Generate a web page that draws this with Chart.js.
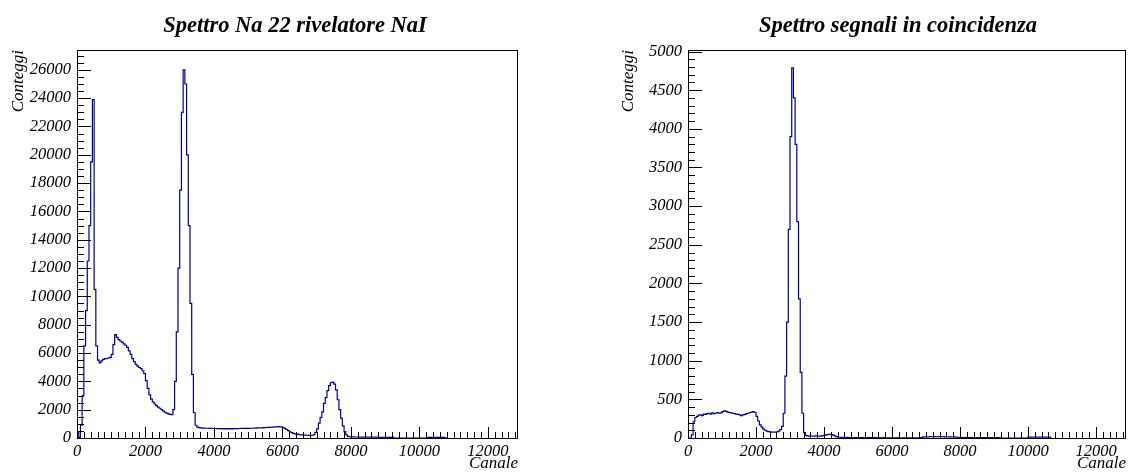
<!DOCTYPE html>
<html>
<head>
<meta charset="utf-8">
<title>Spettri Na 22</title>
<script src="https://cdn.jsdelivr.net/npm/chart.js@4/dist/chart.umd.min.js"></script>
<style>
  html, body { margin: 0; padding: 0; background: #fff; overflow: hidden; }
  canvas { position: absolute; top: 0; }
  #chartA { left: 0; }
  #chartB { left: 564px; }
</style>
</head>
<body>
<canvas id="chartA" width="564" height="474"></canvas>
<canvas id="chartB" width="564" height="474"></canvas>
<script>
// histogram bins are 50 channels wide, starting at channel 0
const binWidth = 50;
const canaleMax = 12880;

// Na-22 spectrum, NaI detector (counts per bin)
const conteggiNaI = [
  450, 40, 900, 3000, 6500, 9000, 12500, 15000, 19500, 23900,        // 0-500
  10500, 6500, 5500, 5300, 5450, 5550, 5600, 5600, 5650, 5700,       // 500-1000
  5900, 6600, 7300, 7100, 6950, 6850, 6750, 6650, 6550, 6400,        // 1000-1500
  6150, 5900, 5600, 5400, 5200, 5080, 4980, 4900, 4750, 4550,        // 1500-2000
  4050, 3500, 3050, 2750, 2550, 2400, 2280, 2180, 2100, 2000,        // 2000-2500
  1900, 1820, 1760, 1710, 1670, 1650, 2000, 4000, 7500, 12000,       // 2500-3000
  17500, 23000, 26000, 25000, 20000, 15000, 9500, 4500, 1800, 900,   // 3000-3500
  770, 730, 710, 700, 700, 690, 690, 680, 680, 670,                  // 3500-4000
  670, 660, 660, 665, 650, 660, 650, 655, 650, 660,                  // 4000-4500
  650, 660, 660, 665, 670, 670, 675, 680, 680, 685,                  // 4500-5000
  680, 690, 690, 700, 700, 710, 710, 720, 720, 730,                  // 5000-5500
  740, 745, 750, 760, 770, 780, 790, 800, 790, 780,                  // 5500-6000
  740, 680, 600, 520, 440, 380, 330, 290, 270, 250,                  // 6000-6500
  230, 220, 210, 200, 195, 190, 190, 195, 230, 400,                  // 6500-7000
  650, 1050, 1450, 1850, 2450, 2850, 3350, 3700, 3900, 3950,         // 7000-7500
  3800, 3400, 2700, 2000, 1400, 850, 450, 220, 120, 90,              // 7500-8000
  80, 75, 70, 70, 70, 65, 65, 65, 60, 60,                            // 8000-8500
  60, 60, 55, 55, 55, 55, 50, 50, 50, 50,                            // 8500-9000
  50, 45, 45, 45, 45, 0, 0, 0, 0, 0,                                 // 9000-9500
  0, 0, 0, 0, 0, 0, 0, 0, 0, 0,                                      // 9500-10000
  0, 0, 0, 0, 50, 50, 50, 50, 50, 50,                                // 10000-10500
  50, 50, 50, 50, 50, 0                                              // 10500-10800
];

// coincidence spectrum (counts per bin)
const conteggiCoinc = [
  0, 0, 40, 210, 265, 280, 295, 300, 290, 310,                       // 0-500
  305, 315, 320, 310, 325, 315, 320, 330, 320, 325,                  // 500-1000
  340, 350, 345, 335, 330, 325, 320, 315, 310, 305,                  // 1000-1500
  300, 290, 300, 305, 315, 320, 330, 335, 340, 330,                  // 1500-2000
  280, 220, 170, 140, 115, 100, 90, 82, 78, 76,                      // 2000-2500
  75, 76, 80, 90, 110, 150, 320, 800, 1500, 2700,                    // 2500-3000
  3900, 4790, 4400, 3800, 2800, 1800, 850, 320, 70, 35,              // 3000-3500
  28, 25, 26, 24, 25, 27, 26, 25, 28, 30,                            // 3500-4000
  35, 40, 45, 48, 45, 38, 28, 18, 12, 10,                            // 4000-4500
  8, 8, 7, 7, 6, 6, 6, 5, 5, 5,                                      // 4500-5000
  5, 4, 4, 5, 4, 4, 4, 4, 3, 4,                                      // 5000-5500
  4, 3, 4, 3, 3, 4, 3, 3, 3, 3,                                      // 5500-6000
  3, 3, 3, 4, 3, 3, 3, 3, 3, 3,                                      // 6000-6500
  3, 3, 3, 3, 3, 3, 4, 5, 14, 15,                                    // 6500-7000
  16, 15, 17, 16, 18, 17, 16, 18, 17, 16,                            // 7000-7500
  17, 15, 16, 14, 15, 13, 14, 12, 10, 6,                             // 7500-8000
  6, 5, 6, 5, 5, 6, 5, 5, 5, 4,                                      // 8000-8500
  5, 4, 4, 5, 4, 4, 4, 4, 4, 4,                                      // 8500-9000
  4, 4, 4, 3, 0, 0, 0, 0, 0, 0,                                      // 9000-9500
  0, 0, 0, 0, 0, 0, 0, 0, 0, 0,                                      // 9500-10000
  12, 12, 12, 12, 12, 12, 12, 12, 12, 12,                            // 10000-10500
  12, 12, 12, 0                                                      // 10500-10700
];

const tickCanale = [0, 2000, 4000, 6000, 8000, 10000, 12000];
const tickNaI = [0, 2000, 4000, 6000, 8000, 10000, 12000, 14000, 16000, 18000, 20000, 22000, 24000, 26000];
const tickCoinc = [0, 500, 1000, 1500, 2000, 2500, 3000, 3500, 4000, 4500, 5000];

const lineBlue = '#000099';
const serif = '"Liberation Serif", "Times New Roman", serif';
const tickFont = { family: serif, style: 'italic', size: 16.5 };
const axisTitleFont = { family: serif, style: 'italic', size: 17 };

// frame box, inward tick marks and the pad title
const rootFrame = {
  id: 'rootFrame',
  afterDatasetsDraw(chart, args, opts) {
    const { ctx, chartArea: a, scales: { x, y } } = chart;
    ctx.save();
    ctx.strokeStyle = '#000';
    ctx.lineWidth = 1;
    ctx.beginPath();
    for (let v = 0; v <= x.max; v += opts.xMinor) {
      const px = Math.round(x.getPixelForValue(v)) + 0.5;
      const len = v % opts.xMajor === 0 ? 11 : 6;
      ctx.moveTo(px, a.bottom);
      ctx.lineTo(px, a.bottom - len);
    }
    for (let v = 0; v <= y.max; v += opts.yMinor) {
      const py = Math.round(y.getPixelForValue(v)) + 0.5;
      const len = v % opts.yMajor === 0 ? 14 : 7;
      ctx.moveTo(a.left, py);
      ctx.lineTo(a.left + len, py);
    }
    ctx.stroke();
    ctx.strokeRect(Math.round(a.left) + 0.5, Math.round(a.top) + 0.5,
                   Math.round(a.width) - 1, Math.round(a.height));

    ctx.fillStyle = '#000';
    ctx.font = 'bold italic 22.5px ' + serif;
    ctx.textAlign = 'center';
    ctx.textBaseline = 'alphabetic';
    ctx.fillText(opts.title, opts.titleX, 32);
    ctx.restore();
  }
};

function makeSpectrum(canvasId, o) {
  const pts = o.counts.map((c, i) => ({ x: i * binWidth, y: c }));
  pts.push({ x: o.counts.length * binWidth, y: o.counts[o.counts.length - 1] });

  return new Chart(document.getElementById(canvasId), {
    type: 'line',
    data: {
      datasets: [{
        data: pts,
        borderColor: lineBlue,
        borderWidth: 1.2,
        pointRadius: 0,
        stepped: true,
        fill: false
      }]
    },
    options: {
      responsive: false,
      animation: false,
      events: [],
      layout: { padding: { top: 50, right: o.padRight, left: 0, bottom: 0 } },
      plugins: {
        legend: { display: false },
        tooltip: { enabled: false },
        title: { display: false },
        rootFrame: {
          title: o.title, titleX: o.titleX,
          xMinor: 200, xMajor: 2000,
          yMinor: o.yMinor, yMajor: o.yMajor
        }
      },
      scales: {
        x: {
          type: 'linear',
          min: 0,
          max: canaleMax,
          afterFit: s => { s.height = 36; },
          afterBuildTicks: s => { s.ticks = tickCanale.map(v => ({ value: v })); },
          grid: { display: false, drawTicks: false },
          border: { display: false },
          ticks: {
            font: tickFont, color: '#000', padding: 4,
            maxRotation: 0, autoSkip: false,
            callback: v => String(v)
          },
          title: {
            display: true, text: 'Canale', align: 'end',
            font: axisTitleFont, color: '#000', padding: 0
          }
        },
        y: {
          type: 'linear',
          min: 0,
          max: o.yMax,
          afterFit: s => { s.width = o.axisWidth; },
          afterBuildTicks: s => { s.ticks = o.yTicks.map(v => ({ value: v })); },
          grid: { display: false, drawTicks: false },
          border: { display: false },
          ticks: {
            font: tickFont, color: '#000', padding: 6,
            autoSkip: false,
            callback: v => String(v)
          },
          title: {
            display: true, text: 'Conteggi', align: 'end',
            font: axisTitleFont, color: '#000',
            padding: { top: o.yTitlePad, bottom: 0 }
          }
        }
      }
    },
    plugins: [rootFrame]
  });
}

makeSpectrum('chartA', {
  counts: conteggiNaI,
  title: 'Spettro Na 22 rivelatore NaI',
  titleX: 295,
  yMax: 27400,
  yTicks: tickNaI,
  yMinor: 500,
  yMajor: 2000,
  axisWidth: 77,
  padRight: 46,
  yTitlePad: 8
});

makeSpectrum('chartB', {
  counts: conteggiCoinc,
  title: 'Spettro segnali in coincidenza',
  titleX: 334,
  yMax: 5020,
  yTicks: tickCoinc,
  yMinor: 100,
  yMajor: 500,
  axisWidth: 124,
  padRight: 2,
  yTitlePad: 54
});
</script>
</body>
</html>
